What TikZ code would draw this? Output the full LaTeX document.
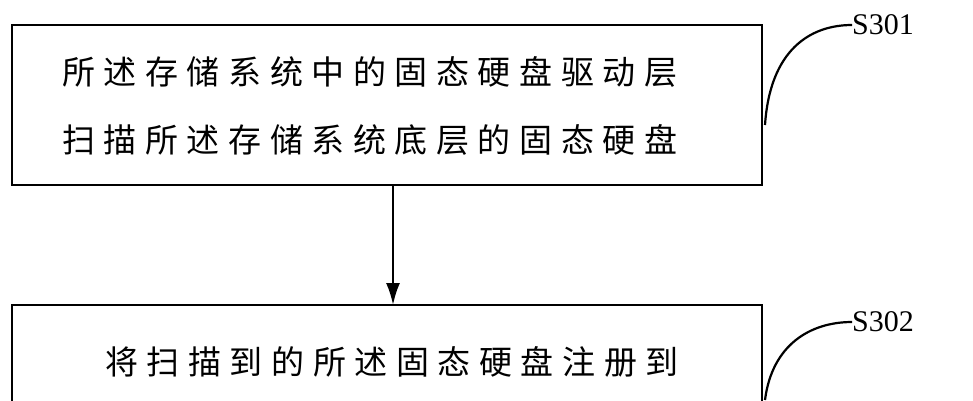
\documentclass[tikz,border=0pt]{standalone}
\usepackage{fontspec}
\usetikzlibrary{arrows.meta}
\setmainfont{Liberation Serif}
\newfontfamily\cjk[LetterSpace=26]{Noto Sans CJK SC}
\tikzset{stepbox/.style={draw,line width=2.4pt},
lbl/.style={font=\fontsize{30}{32}\selectfont,anchor=west,inner sep=0},
txt/.style={font=\cjk\fontsize{33}{36}\selectfont,anchor=west,inner sep=0},
conn/.style={line width=2.2pt}}
\begin{document}
\begin{tikzpicture}[x=1pt,y=-1pt]
\useasboundingbox (0,0) rectangle (973,400);
\clip (0,0) rectangle (973,400);
\draw[stepbox] (12,25) rectangle (762,185);
\node[txt] (t1) at (62,72) {所述存储系统中的固态硬盘驱动层};
\node[txt] (t2) at (62,140) {扫描所述存储系统底层的固态硬盘};
\draw[stepbox] (12,305) rectangle (762,430);
\node[txt] (t3) at (105,362) {将扫描到的所述固态硬盘注册到};
\coordinate (b1) at (393,185);
\coordinate (b2) at (393,305);
\draw[conn,-{Latex[length=22pt,width=14pt]}] (b1) -- (b2);
\node[lbl] (s1) at (852,25) {S301};
\node[lbl] (s2) at (852,322) {S302};
\coordinate (c1) at (765,125);
\coordinate (c2) at (765,400);
\draw[conn] (c1) .. controls (770,50) and (810,25) .. (s1.west);
\draw[conn] (c2) .. controls (772,345) and (810,322) .. (s2.west);
\end{tikzpicture}
\end{document}
